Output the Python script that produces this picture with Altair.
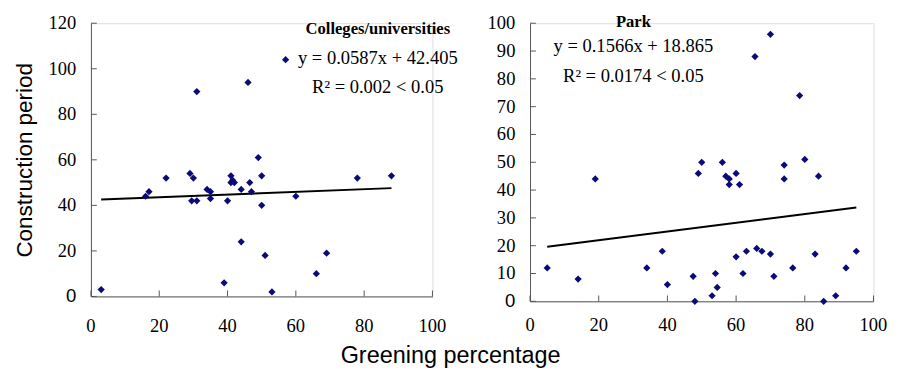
import altair as alt
import pandas as pd

# ---- data ----
col_x = [3, 16, 17, 22, 29, 30, 29.5, 31, 31, 34, 35, 35, 39, 40, 41, 41, 41.5, 42, 44, 44,
         46, 46.5, 47, 49, 50, 50, 51, 53, 57, 60, 66, 69, 78, 88]
col_y = [3, 44, 46, 52, 54, 52, 42, 42, 90, 47, 46, 43, 6, 42, 53, 50, 51, 50, 47, 24,
         94, 50, 46, 61, 53, 40, 18, 2, 104, 44, 10, 19, 52, 53]

park_x = [5, 14, 19, 34, 38.5, 40, 47.5, 48, 49, 50, 53, 54, 54.5, 56, 57, 58, 58, 60, 60, 61,
          62, 63, 65.5, 66, 67.5, 70, 70, 71, 74, 74, 76.5, 78.5, 80, 83, 84, 85.5, 89, 92, 95]
park_y = [12, 8, 44, 12, 18, 6, 9, 0, 46, 50, 2, 10, 5, 50, 45, 44, 42, 46, 16, 42,
          10, 18, 88, 19, 18, 17, 96, 9, 49, 44, 12, 74, 51, 17, 45, 0, 2, 12, 18]

col_fit = (0.0587, 42.405, 3, 88)
park_fit = (0.1566, 18.865, 5, 95)

x_ticks = [0, 20, 40, 60, 80, 100]
col_y_ticks = [0, 20, 40, 60, 80, 100, 120]
park_y_ticks = [0, 10, 20, 30, 40, 50, 60, 70, 80, 90, 100]

col_title = "Colleges/universities"
col_lines = ["y = 0.0587x + 42.405", "R² = 0.002 < 0.05"]
park_title = "Park"
park_lines = ["y = 0.1566x + 18.865", "R² = 0.0174 < 0.05"]

# annotation anchor positions (data units)
col_text_pos = (84, [117.4, 104.6, 92.1])
park_text_pos = (30.1, [100.4, 91.6, 81.0])

SERIF = "Liberation Serif"
SANS = "Liberation Sans"
AXIS_COLOR = "#555555"
POINT_COLOR = "#0a0a78"


def panel(xs, ys, fit, yticks, ymax, width, height, title, lines, tpos,
          ytitle=None, x_label_dy=27):
    pts = pd.DataFrame({"x": xs, "y": ys})
    slope, icpt, x0, x1 = fit
    fit_df = pd.DataFrame({"x": [x0, x1], "y": [slope * x0 + icpt, slope * x1 + icpt]})
    xsc = alt.Scale(domain=[0, 100], nice=False, zero=False)
    ysc = alt.Scale(domain=[0, ymax], nice=False, zero=False)

    ykw = dict(values=yticks, ticks=False, labels=False, grid=False, domainColor=AXIS_COLOR)
    if ytitle:
        yaxis = alt.Axis(title=ytitle, titleFont=SANS, titleFontSize=23,
                         titleFontWeight="normal", titleColor="black", titlePadding=56, **ykw)
    else:
        yaxis = alt.Axis(title=None, **ykw)
    xaxis = alt.Axis(values=x_ticks, ticks=False, labels=False, grid=False,
                     domainColor=AXIS_COLOR, title=None)

    X = lambda f: alt.X(f, scale=xsc, axis=xaxis)
    Y = lambda f: alt.Y(f, scale=ysc, axis=yaxis)
    X0 = lambda: alt.XDatum(0, axis=xaxis, scale=xsc)
    Y0 = lambda: alt.YDatum(0, axis=yaxis, scale=ysc)

    points = alt.Chart(pts).mark_point(shape="diamond", filled=True, size=55,
                                       color=POINT_COLOR, opacity=1).encode(
        x=X("x:Q"), y=Y("y:Q"))
    line = alt.Chart(fit_df).mark_line(color="black", strokeWidth=2).encode(
        x=X("x:Q"), y=Y("y:Q"))

    # inward tick marks
    xt = alt.Chart(pd.DataFrame({"t": x_ticks})).mark_tick(
        orient="vertical", size=6, thickness=1, yOffset=-3, color=AXIS_COLOR, opacity=1
    ).encode(x=X("t:Q"), y=Y0())
    yt = alt.Chart(pd.DataFrame({"t": yticks})).mark_tick(
        orient="horizontal", size=6, thickness=1, xOffset=3, color=AXIS_COLOR, opacity=1
    ).encode(y=Y("t:Q"), x=X0())

    # tick labels
    xl = alt.Chart(pd.DataFrame({"t": x_ticks})).mark_text(
        font=SERIF, fontSize=19, color="black", align="center", baseline="middle",
        dy=x_label_dy
    ).encode(x=X("t:Q"), y=Y0(), text=alt.Text("t:Q"))
    yl = alt.Chart(pd.DataFrame({"t": [v for v in yticks if v != 0]})).mark_text(
        font=SERIF, fontSize=19, color="black", align="right", baseline="middle", dx=-15
    ).encode(y=Y("t:Q"), x=X0(), text=alt.Text("t:Q"))
    yl0 = alt.Chart(pd.DataFrame({"t": [v for v in yticks if v == 0]})).mark_text(
        font=SANS, fontSize=19, color="black", align="right", baseline="middle", dx=-15
    ).encode(y=Y("t:Q"), x=X0(), text=alt.Text("t:Q"))

    tx, tys = tpos
    head = alt.Chart(pd.DataFrame({"x": [tx], "y": [tys[0]], "s": [title]})).mark_text(
        font=SERIF, fontSize=17, fontWeight="bold", color="black", align="center",
        baseline="middle"
    ).encode(x=X("x:Q"), y=Y("y:Q"), text="s:N")
    body = alt.Chart(pd.DataFrame({"x": [tx, tx], "y": tys[1:], "s": lines})).mark_text(
        font=SERIF, fontSize=19, color="black", align="center", baseline="middle"
    ).encode(x=X("x:Q"), y=Y("y:Q"), text="s:N")

    return alt.layer(line, xt, yt, xl, yl, yl0, points, head, body).properties(
        width=width, height=height)


left = panel(col_x, col_y, col_fit, col_y_ticks, 120, 350, 280, col_title, col_lines,
             col_text_pos, ytitle="Construction period", x_label_dy=30)
right = panel(park_x, park_y, park_fit, park_y_ticks, 100, 352, 285, park_title, park_lines,
              park_text_pos, x_label_dy=24)

chart = alt.hconcat(left, right, spacing=100, bounds="flush").properties(
    title=alt.TitleParams("Greening percentage", orient="bottom", anchor="middle",
                          font=SANS, fontSize=24, fontWeight="normal", color="black",
                          offset=9),
    padding={"left": 5, "top": 0, "right": 5, "bottom": 5},
).configure_view(stroke=None).configure(background="white")

chart.save("out.html", embed_options={"renderer": "svg", "actions": False})
